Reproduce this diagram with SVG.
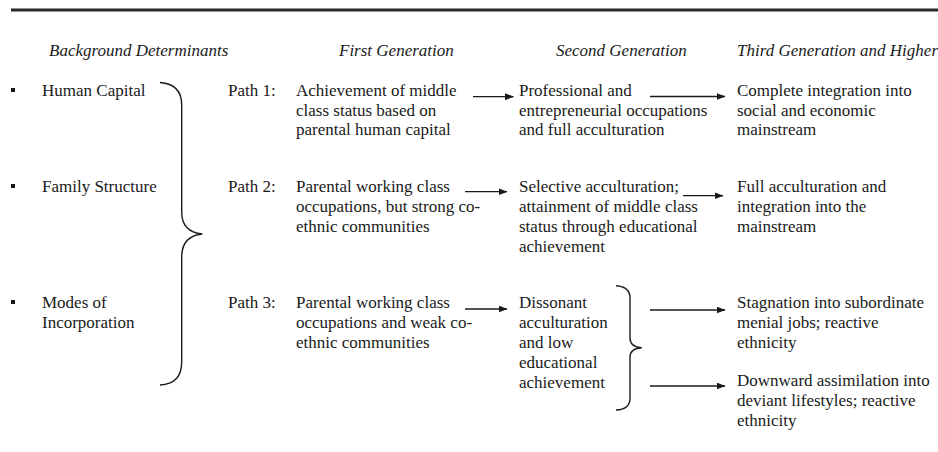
<svg xmlns="http://www.w3.org/2000/svg" width="938" height="452" viewBox="0 0 938 452">
<defs>
<style>
text{font-family:"Liberation Serif","Times New Roman",serif;font-size:17px;fill:#1a1a1a}
.h{font-style:italic}
.c{fill:none;stroke:#1a1a1a;stroke-width:1.3}
.b{fill:none;stroke:#1a1a1a;stroke-width:1.4}
</style>
<marker id="ah" markerWidth="9" markerHeight="7" refX="8.5" refY="3.5" orient="auto" markerUnits="userSpaceOnUse">
<path d="M0,0 L9,3.5 L0,7 Z" fill="#1a1a1a"/>
</marker>
</defs>
<rect width="938" height="452" fill="#fff"/>
<line x1="11" y1="10" x2="938" y2="10" stroke="#2a2a2a" stroke-width="3"/>
<g id="headers">
<text class="h" x="49" y="56">Background Determinants</text>
<text class="h" x="339" y="56">First Generation</text>
<text class="h" x="556" y="56">Second Generation</text>
<text class="h" x="737" y="56">Third Generation and Higher</text>
</g>
<g id="det-human-capital"><rect x="11" y="88" width="4" height="4" fill="#1a1a1a"/><text x="42" y="96">Human Capital</text></g>
<g id="det-family-structure"><rect x="11" y="184" width="4" height="4" fill="#1a1a1a"/><text x="42" y="192">Family Structure</text></g>
<g id="det-modes"><rect x="11" y="300" width="4" height="4" fill="#1a1a1a"/><text x="42" y="308">Modes of<tspan x="42" y="328">Incorporation</tspan></text></g>
<g id="brace-left"><path class="b" d="M160,82.5 Q181.7,84 181.7,105 L181.7,212 Q181.7,232 202.3,234 Q181.7,236 181.7,257 L181.7,362 Q181.7,384 160,385"/></g>
<g id="path1-first"><text x="228" y="96">Path 1:</text><text x="296" y="96">Achievement of middle<tspan x="296" y="115.5">class status based on</tspan><tspan x="296" y="135">parental human capital</tspan></text></g>
<g id="path1-second"><text x="519" y="96">Professional and<tspan x="519" y="115.5">entrepreneurial occupations</tspan><tspan x="519" y="135">and full acculturation</tspan></text></g>
<g id="path1-third"><text x="737" y="96">Complete integration into<tspan x="737" y="115.5">social and economic</tspan><tspan x="737" y="135">mainstream</tspan></text></g>
<g id="path2-first"><text x="228" y="192">Path 2:</text><text x="296" y="192">Parental working class<tspan x="296" y="212">occupations, but strong co-</tspan><tspan x="296" y="232">ethnic communities</tspan></text></g>
<g id="path2-second"><text x="519" y="192">Selective acculturation;<tspan x="519" y="212">attainment of middle class</tspan><tspan x="519" y="232">status through educational</tspan><tspan x="519" y="252">achievement</tspan></text></g>
<g id="path2-third"><text x="737" y="192">Full acculturation and<tspan x="737" y="212">integration into the</tspan><tspan x="737" y="232">mainstream</tspan></text></g>
<g id="path3-first"><text x="228" y="308">Path 3:</text><text x="296" y="308">Parental working class<tspan x="296" y="328">occupations and weak co-</tspan><tspan x="296" y="348">ethnic communities</tspan></text></g>
<g id="path3-second"><text x="519" y="308">Dissonant<tspan x="519" y="328">acculturation</tspan><tspan x="519" y="348">and low</tspan><tspan x="519" y="368">educational</tspan><tspan x="519" y="388">achievement</tspan></text></g>
<g id="brace-right"><path class="b" d="M616,285.7 Q630,286.5 630,298 L630,338 Q630,347 641.7,347.7 Q630,348.5 630,357 L630,398 Q630,409.5 616,410"/></g>
<g id="path3-third-a"><text x="737" y="308">Stagnation into subordinate<tspan x="737" y="328">menial jobs; reactive</tspan><tspan x="737" y="348">ethnicity</tspan></text></g>
<g id="path3-third-b"><text x="737" y="386">Downward assimilation into<tspan x="737" y="406">deviant lifestyles; reactive</tspan><tspan x="737" y="425.5">ethnicity</tspan></text></g>
<g id="connectors">
<line class="c" x1="473" y1="96.7" x2="513.5" y2="96.7" marker-end="url(#ah)"/>
<line class="c" x1="650" y1="96.5" x2="725" y2="96.5" marker-end="url(#ah)"/>
<line class="c" x1="465" y1="191.7" x2="507" y2="191.7" marker-end="url(#ah)"/>
<line class="c" x1="683" y1="195.7" x2="723" y2="195.7" marker-end="url(#ah)"/>
<line class="c" x1="465" y1="309" x2="507" y2="309" marker-end="url(#ah)"/>
<line class="c" x1="650" y1="310" x2="725" y2="310" marker-end="url(#ah)"/>
<line class="c" x1="650" y1="386" x2="725" y2="386" marker-end="url(#ah)"/>
</g>
</svg>
